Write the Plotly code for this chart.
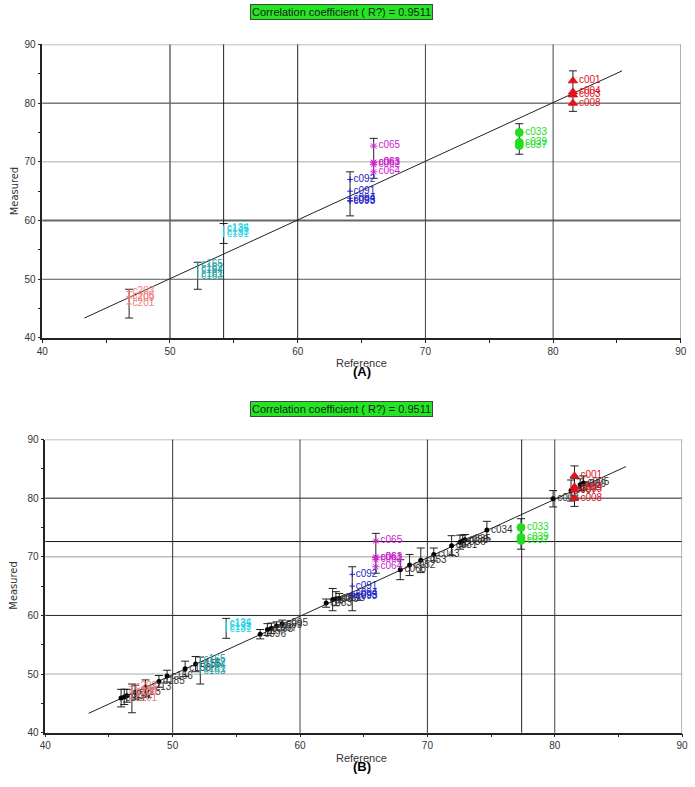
import plotly.graph_objects as go

# coloured sample groups (same in both panels)
red_names = ["c001", "c004", "c003", "c008"]
red_x = [81.55, 81.55, 81.55, 81.55]
red_y = [83.8, 81.9, 81.4, 80.0]
red_bar = [82.05, 3.45]

green_names = ["c033", "c039", "c037"]
green_x = [77.35, 77.35, 77.35]
green_y = [75.0, 73.3, 72.8]
green_bar = [73.9, 2.6]

mag_names = ["c065", "c061", "c063", "c062", "c064"]
mag_x = [65.95, 65.95, 65.95, 65.95, 65.95]
mag_y = [72.7, 69.85, 69.95, 69.5, 68.3]
mag_bar = [70.6, 3.4]

blue_names = ["c092", "c091", "c094", "c093", "c095"]
blue_x = [64.1, 64.1, 64.1, 64.1, 64.1]
blue_y = [67.0, 65.0, 63.8, 63.4, 63.3]
blue_bar = [64.55, 3.75]

teal_names = ["c165", "c162", "c164", "c161", "c163"]
teal_x = [52.17, 52.17, 52.17, 52.17, 52.17]
teal_y = [52.5, 51.8, 51.5, 50.8, 50.4]
teal_bar = [50.6, 2.3]

cyan_names = ["c134", "c135", "c133", "c131"]
cyan_x = [54.2, 54.2, 54.2, 54.2]
cyan_y = [58.7, 58.4, 57.9, 57.6]
cyan_bar = [57.8, 1.7]

salmon_names = ["c203", "c205", "c209", "c201"]
salmon_x = [46.8, 46.8, 46.8, 46.8]
salmon_y = [47.9, 47.1, 46.8, 45.8]
salmon_bar = [45.85, 2.45]

# reference samples shown only in panel B
ref_names = ["c211", "c214", "c212", "c215", "c213", "c185", "c156", "c158", "c155",
             "c096", "c098", "c097", "c099", "c095", "c083", "c085", "c081", "c093",
             "c068", "c052", "c053", "c043", "c031", "c036", "c038", "c035", "c034",
             "c006", "c007", "c002", "c009", "c005"]
ref_x = [45.95, 46.2, 46.4, 47.05, 47.87, 48.92, 49.56, 50.98, 51.8,
         56.87, 57.44, 57.75, 58.15, 58.6, 62.05, 62.56, 62.82, 63.08,
         67.87, 68.6, 69.48, 70.5, 71.9, 72.56, 72.77, 72.95, 74.67,
         79.87, 81.28, 81.54, 82.0, 82.25]
ref_y = [45.9, 46.1, 46.3, 46.9, 47.7, 48.75, 49.65, 50.9, 51.7,
         56.8, 57.6, 57.8, 58.2, 58.6, 62.1, 62.7, 62.85, 62.95,
         67.8, 68.6, 69.4, 70.4, 71.9, 72.5, 72.7, 72.9, 74.55,
         79.9, 81.3, 81.9, 82.3, 82.6]
ref_err = [1.5, 1.3, 1.1, 1.2, 1.3, 1.0, 1.0, 1.3, 1.3,
           0.8, 1.0, 0.9, 0.7, 0.6, 0.7, 1.9, 1.2, 0.8,
           1.7, 1.8, 2.1, 1.1, 1.7, 1.2, 1.0, 0.9, 1.5,
           1.4, 1.8, 1.5, 1.0, 1.2]

fit_a_x = [43.3, 85.4]
fit_a_y = [43.4, 85.5]
fit_b_x = [43.4, 85.6]
fit_b_y = [43.3, 85.4]

r2_text = "Correlation coefficient ( R?) = 0.9511"
ticks = [40, 50, 60, 70, 80, 90]

groups = [
    (red_names, red_x, red_y, red_bar, "#e0121e", "triangle-up", 8),
    (green_names, green_x, green_y, green_bar, "#22dd22", "circle", 8),
    (mag_names, mag_x, mag_y, mag_bar, "#cc22cc", "asterisk-open", 6),
    (blue_names, blue_x, blue_y, blue_bar, "#2424c8", "cross-thin-open", 4),
    (teal_names, teal_x, teal_y, teal_bar, "#26a3a3", "line-ns-open", 4),
    (cyan_names, cyan_x, cyan_y, cyan_bar, "#2ed3e6", "line-ns-open", 4),
    (salmon_names, salmon_x, salmon_y, salmon_bar, "#f08080", "cross-thin-open", 4),
]

FONT = "Liberation Sans, Arial, sans-serif"
fig = go.Figure()

def add_panel(xa, ya, fit_x, fit_y, with_refs):
    fig.add_trace(go.Scatter(x=fit_x, y=fit_y, mode="lines", xaxis=xa, yaxis=ya,
                             line=dict(color="#222", width=1), showlegend=False))
    if with_refs:
        fig.add_trace(go.Scatter(
            x=ref_x, y=ref_y, mode="markers+text", text=ref_names, xaxis=xa, yaxis=ya,
            textposition="middle right", textfont=dict(size=10, color="#333", family=FONT),
            marker=dict(color="black", size=5, symbol="circle"),
            error_y=dict(type="data", array=ref_err, color="#222", thickness=1, width=4),
            showlegend=False))
    for names, gx, gy, bar, col, sym, size in groups:
        fig.add_trace(go.Scatter(
            x=[gx[0]], y=[bar[0]], mode="markers", xaxis=xa, yaxis=ya,
            marker=dict(size=1, color="rgba(0,0,0,0)"),
            error_y=dict(type="data", array=[bar[1]], color="#222", thickness=1, width=4),
            showlegend=False))
        fig.add_trace(go.Scatter(
            x=gx, y=gy, mode="markers+text", text=names, xaxis=xa, yaxis=ya,
            textposition="middle right", textfont=dict(size=10, color=col, family=FONT),
            marker=dict(color=col, size=size, symbol=sym, line=dict(color=col, width=1)),
            showlegend=False))

add_panel("x", "y", fit_a_x, fit_a_y, False)
add_panel("x2", "y2", fit_b_x, fit_b_y, True)

axis_common = dict(range=[40, 90], tickvals=ticks, ticks="outside", ticklen=3,
                   tickcolor="#222", showline=True, linecolor="#222", linewidth=1.5,
                   showgrid=False, zeroline=False,
                   tickfont=dict(size=10, color="#333", family=FONT),
                   minor=dict(dtick=5, tick0=40, ticks="outside", ticklen=3, tickcolor="#222"))

W, H = 695, 787
fig.update_layout(
    width=W, height=H, margin=dict(l=0, r=0, t=0, b=0),
    paper_bgcolor="white", plot_bgcolor="white",
    xaxis=dict(axis_common, domain=[36.9 / W, 686.7 / W], anchor="y"),
    yaxis=dict(axis_common, domain=[1 - 337.7 / H, 1 - 40 / H], anchor="x"),
    xaxis2=dict(axis_common, domain=[40 / W, 688 / W], anchor="y2"),
    yaxis2=dict(axis_common, domain=[1 - 738 / H, 1 - 440.7 / H], anchor="x2"),
)

# grid lines and crosshair lines (value, colour, width)
grid_a_h = [(90, "#aaa", 1.5), (80, "#333", 1), (70, "#aaa", 1), (60, "#666", 2), (50, "#555", 1)]
grid_a_v = [(50, "#666", 1.5), (54.2, "#222", 1), (60, "#222", 1), (70, "#444", 1), (80, "#444", 1), (90, "#999", 1.5)]
grid_b_h = [(90, "#aaa", 1.5), (80, "#222", 1), (72.6, "#111", 1), (70, "#bbb", 1.5), (60, "#222", 1), (50, "#aaa", 1)]
grid_b_v = [(50, "#333", 1), (60, "#444", 1), (70, "#333", 1), (77.4, "#222", 1), (80, "#444", 1), (90, "#999", 1.5)]

for xr, yr, hs, vs in [("x", "y", grid_a_h, grid_a_v), ("x2", "y2", grid_b_h, grid_b_v)]:
    for v, c, w in hs:
        fig.add_shape(type="line", xref=xr + " domain", yref=yr, x0=0, x1=1, y0=v, y1=v,
                      line=dict(color=c, width=w), layer="below")
    for v, c, w in vs:
        fig.add_shape(type="line", xref=xr, yref=yr + " domain", x0=v, x1=v, y0=0, y1=1,
                      line=dict(color=c, width=w), layer="below")

# R box, axis titles, panel letters
for box_y, title_y, ref_y_px, letter_y, letter in [(7, 189, 363, 372, "(A)"), (410, 589, 763.5, 772.5, "(B)")]:
    fig.add_annotation(x=341 / W, y=1 - box_y / H, xref="paper", yref="paper", text=r2_text,
                       xanchor="center", yanchor="middle",
                       showarrow=False, bgcolor="#22e622", bordercolor="#444", borderwidth=1,
                       borderpad=1, font=dict(size=11, color="#1a1a1a", family=FONT))
    fig.add_annotation(x=8 / W, y=1 - title_y / H, xref="paper", yref="paper", text="Measured",
                       xanchor="center", yanchor="middle", textangle=-90, showarrow=False,
                       font=dict(size=11, color="#333", family="Liberation Sans Narrow, DejaVu Sans Condensed, Arial Narrow"))
    fig.add_annotation(x=362 / W, y=1 - ref_y_px / H, xref="paper", yref="paper", text="Reference",
                       xanchor="center", yanchor="middle",
                       showarrow=False, font=dict(size=11, color="#333", family=FONT))
    fig.add_annotation(x=362 / W, y=1 - letter_y / H, xref="paper", yref="paper",
                       text="<b>" + letter + "</b>", xanchor="center", yanchor="middle", showarrow=False,
                       font=dict(size=13, color="black", family=FONT))

# page body has a default 8px margin; remove it so the figure fills the window
fig.write_html("out.html", config={"displayModeBar": False},
               post_script="document.body.style.margin='0';")
